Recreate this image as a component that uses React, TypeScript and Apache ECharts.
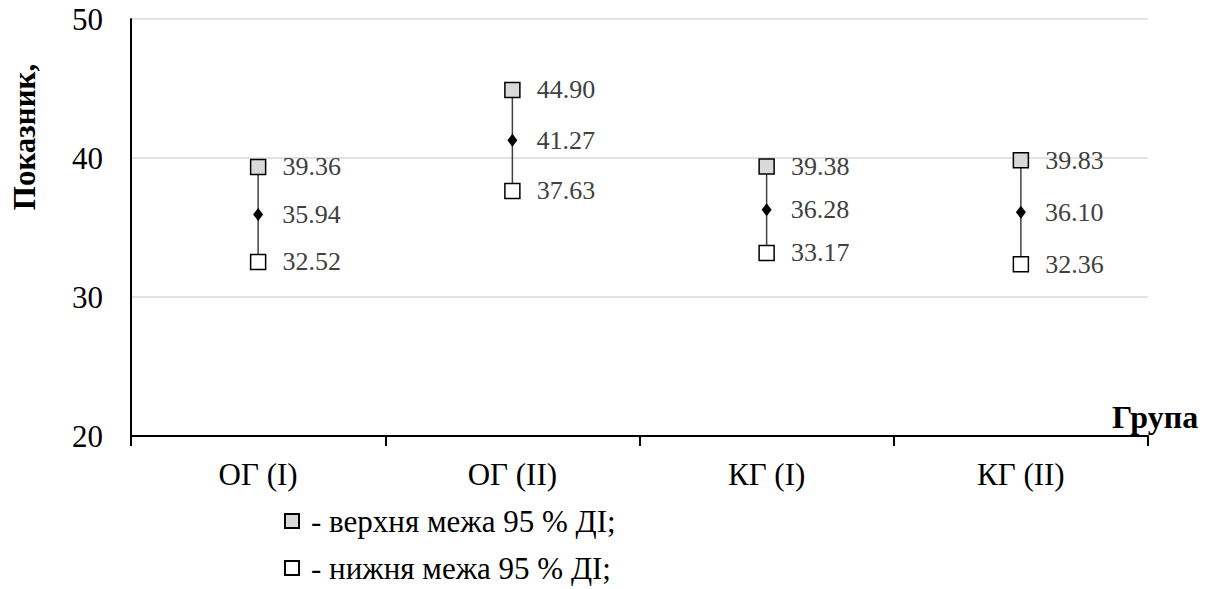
import React, { useEffect, useRef } from "react";
import * as echarts from "echarts";

const categories = ["ОГ (І)", "ОГ (ІІ)", "КГ (І)", "КГ (ІІ)"];
const upperValues = [39.36, 44.9, 39.38, 39.83];
const meanValues = [35.94, 41.27, 36.28, 36.1];
const lowerValues = [32.52, 37.63, 33.17, 32.36];
const yTicks = { min: 20, max: 50, interval: 10 };
const legendUpper = "- верхня межа 95 % ДІ;";
const legendLower = "- нижня межа 95 % ДІ;";
const yTitle = "Показник,";
const xTitle = "Група";

const FONT = "Liberation Serif, Times New Roman, serif";

export default function App() {
  const ref = useRef<HTMLDivElement>(null);
  useEffect(() => {
    if (!ref.current) return;
    const chart = echarts.init(ref.current, undefined, { renderer: "svg" });
    const labelStyle = (dist: number) => ({
      show: true,
      position: "right" as const,
      distance: dist,
      color: "#404040",
      fontSize: 26,
      fontFamily: FONT,
      formatter: (p: any) => Number(p.value[1]).toFixed(2),
    });
    chart.setOption({
      animation: false,
      backgroundColor: "#ffffff",
      textStyle: { fontFamily: FONT },
      grid: { left: 131, right: 62, top: 19, bottom: 153, containLabel: false },
      xAxis: {
        type: "category",
        data: categories,
        boundaryGap: true,
        axisLine: { show: true, lineStyle: { color: "#000", width: 2 } },
        axisTick: { show: true, length: 10, lineStyle: { color: "#000", width: 2 }, alignWithLabel: false },
        axisLabel: { color: "#000", fontSize: 31, fontFamily: FONT, margin: 23 },
        splitLine: { show: false },
      },
      yAxis: {
        type: "value",
        min: yTicks.min,
        max: yTicks.max,
        interval: yTicks.interval,
        axisLine: { show: true, lineStyle: { color: "#000", width: 2 } },
        axisTick: { show: false },
        axisLabel: { color: "#000", fontSize: 31, fontFamily: FONT, margin: 28 },
        splitLine: { show: true, lineStyle: { color: "#d9d9d9", width: 1.5 } },
      },
      legend: {
        orient: "vertical",
        left: 284,
        top: 505,
        padding: 0,
        itemWidth: 14,
        itemHeight: 14,
        itemGap: 15,
        data: [legendUpper, legendLower],
        textStyle: { color: "#000", fontSize: 31, lineHeight: 32, fontFamily: FONT, padding: [0, 0, 0, 7] },
      },
      graphic: [
        {
          type: "text",
          x: 24,
          y: 137,
          rotation: Math.PI / 2,
          style: {
            text: yTitle,
            fill: "#000",
            font: `bold 31px ${FONT}`,
            textAlign: "center",
            textVerticalAlign: "middle",
          },
        },
        {
          type: "text",
          x: 1112,
          y: 417,
          style: {
            text: xTitle,
            fill: "#000",
            font: `bold 32px ${FONT}`,
            textAlign: "left",
            textVerticalAlign: "middle",
          },
        },
      ],
      series: [
        {
          type: "custom",
          name: "range",
          z: 1,
          data: categories.map((c, i) => [i, upperValues[i], lowerValues[i]]),
          renderItem: (params: any, api: any) => {
            const top = api.coord([api.value(0), api.value(1)]);
            const bot = api.coord([api.value(0), api.value(2)]);
            return {
              type: "line",
              shape: { x1: top[0], y1: top[1], x2: bot[0], y2: bot[1] },
              style: { stroke: "#404040", lineWidth: 1.5 },
            };
          },
          encode: { x: 0, y: [1, 2] },
          silent: true,
        },
        {
          type: "scatter",
          name: legendUpper,
          z: 3,
          symbol: "rect",
          symbolSize: 15,
          itemStyle: { color: "#d9d9d9", borderColor: "#000", borderWidth: 1.5, opacity: 1 },
          data: upperValues.map((v, i) => [i, v]),
          label: labelStyle(16),
        },
        {
          type: "scatter",
          name: "mean",
          z: 3,
          symbol: "diamond",
          symbolSize: [10, 13],
          itemStyle: { color: "#000", opacity: 1 },
          data: meanValues.map((v, i) => [i, v]),
          label: labelStyle(19),
        },
        {
          type: "scatter",
          name: legendLower,
          z: 3,
          symbol: "rect",
          symbolSize: 15,
          itemStyle: { color: "#ffffff", borderColor: "#000", borderWidth: 1.5, opacity: 1 },
          data: lowerValues.map((v, i) => [i, v]),
          label: labelStyle(16),
        },
      ],
    });
    return () => chart.dispose();
  }, []);
  return <div ref={ref} style={{ width: 1210, height: 589, position: "absolute", left: 0, top: 0 }} />;
}
